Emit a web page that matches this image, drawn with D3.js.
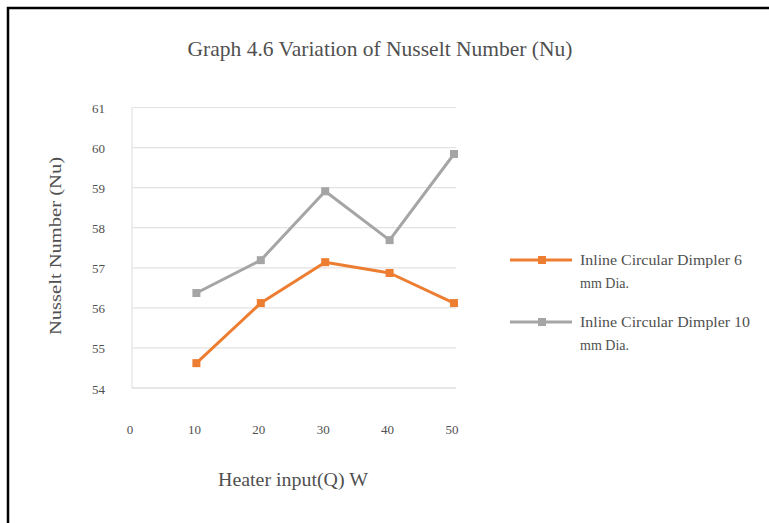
<!DOCTYPE html>
<html lang="en">
<head>
  <meta charset="utf-8" />
  <title>Graph 4.6 Variation of Nusselt Number (Nu)</title>
  <style>
    body { margin: 0; background: #fff; }
    svg { display: block; }
    text { font-family: "Liberation Serif", "DejaVu Serif", serif; fill: #505050; }
  </style>
</head>
<body>
  <svg width="769" height="523"></svg>

  <script src="https://d3js.org/d3.v7.min.js"></script>
  <script>
    // data
    const heaterInput = [10, 20, 30, 40, 50];
    const dimple6 = [54.62, 56.12, 57.14, 56.87, 56.12];
    const dimple10 = [56.37, 57.19, 58.91, 57.69, 59.84];
    const seriesNames = ["Inline Circular Dimpler 6 mm Dia.", "Inline Circular Dimpler 10 mm Dia."];
    const seriesColors = ["#ED7D31", "#A5A5A5"];
    const xTicks = [0, 10, 20, 30, 40, 50];
    const yTicks = [54, 55, 56, 57, 58, 59, 60, 61];

    const svg = d3.select("svg");

    // frame (only left and top visible in the picture)
    svg.append("rect")
      .attr("x", 8).attr("y", 8)
      .attr("width", 800).attr("height", 560)
      .attr("fill", "none")
      .attr("stroke", "#000")
      .attr("stroke-width", 2.5);

    const x = d3.scaleLinear().domain([0, 50]).range([132, 454]);
    const y = d3.scaleLinear().domain([54, 61]).range([388, 107.5]);

    // gridlines
    svg.append("g")
      .selectAll("line")
      .data(yTicks)
      .join("line")
      .attr("x1", 132).attr("x2", 456)
      .attr("y1", d => y(d)).attr("y2", d => y(d))
      .attr("stroke", d => d === 54 ? "#cfcfcf" : "#e2e2e2")
      .attr("stroke-width", 1.2);

    // left axis line
    svg.append("line")
      .attr("x1", 132).attr("x2", 132)
      .attr("y1", y(61)).attr("y2", y(54))
      .attr("stroke", "#e2e2e2")
      .attr("stroke-width", 1.2);

    // y tick labels
    svg.append("g")
      .selectAll("text")
      .data(yTicks)
      .join("text")
      .attr("x", 105)
      .attr("y", d => y(d) + 1)
      .attr("dy", "0.35em")
      .attr("text-anchor", "end")
      .style("font-size", "13px")
      .text(d => d);

    // x tick labels
    svg.append("g")
      .selectAll("text")
      .data(xTicks)
      .join("text")
      .attr("x", d => x(d) - 2)
      .attr("y", 434)
      .attr("text-anchor", "middle")
      .style("font-size", "13px")
      .text(d => d);

    // series
    const allSeries = [dimple6, dimple10];
    const line = d3.line()
      .x((d, i) => x(heaterInput[i]))
      .y(d => y(d));

    allSeries.slice().reverse().forEach((vals, k) => {
      const idx = allSeries.length - 1 - k;
      const g = svg.append("g");
      g.append("path")
        .datum(vals)
        .attr("d", line)
        .attr("fill", "none")
        .attr("stroke", seriesColors[idx])
        .attr("stroke-width", 3)
        .attr("stroke-linejoin", "round");
      g.selectAll("rect")
        .data(vals)
        .join("rect")
        .attr("x", (d, i) => x(heaterInput[i]) - 4)
        .attr("y", d => y(d) - 4)
        .attr("width", 8).attr("height", 8)
        .attr("fill", seriesColors[idx]);
    });

    // title
    svg.append("text")
      .attr("x", 380)
      .attr("y", 56)
      .attr("text-anchor", "middle")
      .attr("textLength", 385)
      .attr("lengthAdjust", "spacingAndGlyphs")
      .style("font-size", "21px")
      .text("Graph 4.6 Variation of Nusselt Number (Nu)");

    // axis titles
    svg.append("text")
      .attr("transform", "translate(61,246) rotate(-90)")
      .attr("text-anchor", "middle")
      .attr("textLength", 178)
      .attr("lengthAdjust", "spacingAndGlyphs")
      .style("font-size", "17px")
      .text("Nusselt Number (Nu)");

    svg.append("text")
      .attr("x", 293)
      .attr("y", 486)
      .attr("text-anchor", "middle")
      .attr("textLength", 150)
      .attr("lengthAdjust", "spacingAndGlyphs")
      .style("font-size", "18px")
      .text("Heater input(Q) W");

    // legend
    const legendY = [260, 322];
    const legendWidths = [162, 170];
    seriesNames.forEach((name, i) => {
      const g = svg.append("g").attr("transform", `translate(0,${legendY[i]})`);
      g.append("line")
        .attr("x1", 510).attr("x2", 572)
        .attr("stroke", seriesColors[i])
        .attr("stroke-width", 3);
      g.append("rect")
        .attr("x", 538).attr("y", -4)
        .attr("width", 8).attr("height", 8)
        .attr("fill", seriesColors[i]);
      const parts = name.split(" mm ");
      g.append("text")
        .attr("x", 580).attr("y", 0).attr("dy", "0.35em")
        .attr("textLength", legendWidths[i])
        .attr("lengthAdjust", "spacingAndGlyphs")
        .style("font-size", "14px")
        .text(parts[0]);
      g.append("text")
        .attr("x", 580).attr("y", 23).attr("dy", "0.35em")
        .style("font-size", "14px")
        .text("mm " + parts[1]);
    });
  </script>
</body>
</html>
